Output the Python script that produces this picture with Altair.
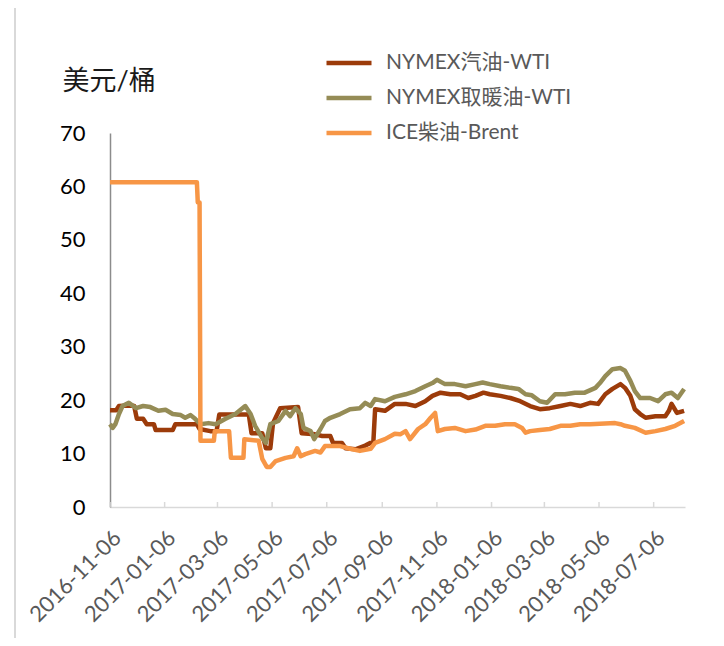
import altair as alt
import pandas as pd

FONT = "Lato, Noto Sans CJK SC, sans-serif"

series_names = ["NYMEX汽油-WTI", "NYMEX取暖油-WTI", "ICE柴油-Brent"]
series_colors = ["#9C3B0A", "#958C56", "#F79646"]

tick_labels = ["2016-11-06", "2017-01-06", "2017-03-06", "2017-05-06", "2017-07-06",
               "2017-09-06", "2017-11-06", "2018-01-06", "2018-03-06", "2018-05-06",
               "2018-07-06"]
x_start = "2016-11-06"
x_end = "2018-08-10"
y_ticks = [0, 10, 20, 30, 40, 50, 60, 70]

gas_dates = ["2016-11-06", "2016-11-13", "2016-11-16", "2016-11-29", "2016-12-03", "2016-12-06",
             "2016-12-13", "2016-12-17", "2016-12-25", "2016-12-27", "2017-01-15", "2017-01-18",
             "2017-02-11", "2017-02-14", "2017-02-26", "2017-03-05", "2017-03-08", "2017-04-10",
             "2017-04-13", "2017-04-25", "2017-04-29", "2017-05-04", "2017-05-07", "2017-05-15",
             "2017-06-04", "2017-06-08", "2017-06-23", "2017-07-01", "2017-07-10", "2017-07-13",
             "2017-07-23", "2017-07-27", "2017-08-07", "2017-08-18", "2017-08-24", "2017-08-27",
             "2017-08-29", "2017-09-09", "2017-09-20", "2017-10-02", "2017-10-13", "2017-10-24",
             "2017-11-01", "2017-11-10", "2017-11-21", "2017-12-02", "2017-12-11", "2017-12-19",
             "2017-12-28", "2018-01-04", "2018-01-16", "2018-01-27", "2018-02-07", "2018-02-18",
             "2018-03-01", "2018-03-12", "2018-03-24", "2018-04-04", "2018-04-15", "2018-04-26",
             "2018-05-05", "2018-05-13", "2018-05-21", "2018-05-30", "2018-06-04", "2018-06-10",
             "2018-06-15", "2018-06-21", "2018-06-27", "2018-07-08", "2018-07-19", "2018-07-23",
             "2018-07-26", "2018-08-01", "2018-08-09"]
gas_vals = [18.1, 18.1, 18.9, 19.0, 18.9, 16.5,
            16.5, 15.5, 15.5, 14.4, 14.4, 15.5,
            15.5, 14.6, 14.2, 14.2, 17.3, 17.3,
            13.8, 13.8, 11.0, 11.0, 15.7, 18.5,
            18.7, 13.8, 13.6, 13.3, 13.3, 12.0,
            12.0, 11.0, 10.8, 11.5, 12.0, 12.0,
            18.3, 18.0, 19.3, 19.3, 18.9, 19.8,
            20.8, 21.4, 21.1, 21.1, 20.4, 20.8,
            21.4, 21.1, 20.8, 20.4, 19.8, 18.9,
            18.3, 18.5, 18.9, 19.3, 18.9, 19.5,
            19.3, 21.1, 22.1, 23.0, 22.3, 20.8,
            18.3, 17.4, 16.7, 17.0, 17.0, 18.0,
            19.3, 17.6, 18.0]

heat_dates = ["2016-11-06", "2016-11-09", "2016-11-12", "2016-11-16", "2016-11-20", "2016-11-27",
              "2016-12-05", "2016-12-13", "2016-12-21", "2016-12-30", "2017-01-07", "2017-01-15",
              "2017-01-24", "2017-01-29", "2017-02-04", "2017-02-09", "2017-02-15", "2017-02-24",
              "2017-03-04", "2017-03-15", "2017-03-26", "2017-04-06", "2017-04-12", "2017-04-17",
              "2017-04-25", "2017-04-29", "2017-05-04", "2017-05-13", "2017-05-21", "2017-05-26",
              "2017-06-01", "2017-06-07", "2017-06-10", "2017-06-18", "2017-06-22", "2017-06-29",
              "2017-07-04", "2017-07-10", "2017-07-21", "2017-08-01", "2017-08-12", "2017-08-18",
              "2017-08-24", "2017-08-29", "2017-09-09", "2017-09-20", "2017-10-02", "2017-10-13",
              "2017-10-24", "2017-11-01", "2017-11-06", "2017-11-15", "2017-11-26", "2017-12-08",
              "2017-12-19", "2017-12-27", "2018-01-04", "2018-01-16", "2018-01-27", "2018-02-05",
              "2018-02-13", "2018-02-20", "2018-03-01", "2018-03-09", "2018-03-18", "2018-03-29",
              "2018-04-09", "2018-04-20", "2018-05-02", "2018-05-07", "2018-05-13", "2018-05-21",
              "2018-05-30", "2018-06-04", "2018-06-10", "2018-06-15", "2018-06-21", "2018-07-02",
              "2018-07-11", "2018-07-19", "2018-07-26", "2018-08-02", "2018-08-09"]
heat_vals = [15.5, 14.8, 15.5, 17.4, 18.9, 19.5,
             18.5, 18.9, 18.7, 18.0, 18.2, 17.4,
             17.2, 16.7, 17.2, 16.5, 15.5, 15.7,
             15.5, 16.5, 17.4, 18.9, 17.4, 15.2,
             12.9, 12.0, 15.5, 16.1, 18.0, 17.0,
             18.5, 17.4, 14.8, 14.2, 12.7, 14.6,
             16.1, 16.7, 17.4, 18.3, 18.5, 19.5,
             18.9, 20.2, 19.8, 20.6, 21.1, 21.7,
             22.6, 23.2, 23.8, 23.0, 23.0, 22.6,
             23.0, 23.3, 23.0, 22.6, 22.3, 22.1,
             21.1, 20.9, 19.8, 19.5, 21.1, 21.1,
             21.4, 21.4, 22.3, 23.2, 24.5, 25.8,
             26.0, 25.5, 23.6, 21.7, 20.4, 20.4,
             19.8, 21.1, 21.4, 20.4, 22.1]

ice_dates = ["2016-11-06", "2017-02-11", "2017-02-12", "2017-02-14", "2017-02-15", "2017-03-02",
             "2017-03-03", "2017-03-19", "2017-03-21", "2017-04-04", "2017-04-05", "2017-04-21",
             "2017-04-25", "2017-04-30", "2017-05-04", "2017-05-10", "2017-05-21", "2017-05-30",
             "2017-06-03", "2017-06-07", "2017-06-12", "2017-06-23", "2017-06-29", "2017-07-04",
             "2017-07-21", "2017-08-01", "2017-08-12", "2017-08-24", "2017-08-29", "2017-09-09",
             "2017-09-20", "2017-09-26", "2017-10-02", "2017-10-07", "2017-10-16", "2017-10-24",
             "2017-10-30", "2017-11-04", "2017-11-07", "2017-11-15", "2017-11-26", "2017-12-08",
             "2017-12-19", "2017-12-30", "2018-01-10", "2018-01-21", "2018-02-01", "2018-02-09",
             "2018-02-13", "2018-02-18", "2018-03-01", "2018-03-12", "2018-03-24", "2018-04-04",
             "2018-04-15", "2018-04-26", "2018-05-07", "2018-05-24", "2018-05-30", "2018-06-04",
             "2018-06-15", "2018-06-27", "2018-07-08", "2018-07-19", "2018-07-30", "2018-08-09"]
ice_vals = [60.8, 60.8, 57.0, 57.0, 12.4, 12.4,
            14.2, 14.2, 9.2, 9.2, 12.7, 12.4,
            9.0, 7.5, 7.5, 8.6, 9.2, 9.5,
            11.0, 9.5, 9.9, 10.5, 10.2, 11.4,
            11.4, 10.9, 10.5, 10.9, 12.0, 12.7,
            13.7, 13.6, 14.2, 12.7, 14.6, 15.5,
            16.7, 17.6, 14.2, 14.6, 14.8, 14.2,
            14.5, 15.2, 15.2, 15.5, 15.5, 14.8,
            13.9, 14.2, 14.4, 14.6, 15.2, 15.2,
            15.5, 15.5, 15.6, 15.7, 15.5, 15.2,
            14.8, 13.9, 14.2, 14.6, 15.2, 16.1]


def ms(s):
    return int(pd.Timestamp(s, tz="UTC").timestamp() * 1000)


rows = []
for k, (name, dates, vals) in enumerate(zip(series_names,
                                             [gas_dates, heat_dates, ice_dates],
                                             [gas_vals, heat_vals, ice_vals])):
    for d, v in zip(dates, vals):
        rows.append({"date": d, "value": v, "series": name, "k": k})
df = pd.DataFrame(rows)

W, H = 575, 374

x_enc = alt.X(
    "date:T",
    scale=alt.Scale(type="utc", domain=[ms(x_start), ms(x_end)]),
    axis=alt.Axis(
        values=[ms(t) for t in tick_labels],
        labelExpr="utcFormat(datum.value, '%Y-%m-%d')",
        labelAngle=-45, labelFontSize=22, labelColor="#595959", labelFont=FONT,
        labelPadding=20, labelOverlap=False, labelFlush=False,
        ticks=False, grid=False, domainColor="#D9D9D9", domainWidth=1.5, title=None,
    ),
)

lines = alt.Chart(df).mark_line(strokeWidth=4.5, strokeJoin="round").encode(
    x=x_enc,
    y=alt.Y(
        "value:Q",
        scale=alt.Scale(domain=[0, 70], nice=False),
        axis=alt.Axis(
            values=y_ticks, grid=False, ticks=False, domainColor="#8C8C8C", domainWidth=1.5,
            labelFontSize=22, labelColor="#000000", labelFont=FONT, labelPadding=25,
            title="美元/桶", titleAngle=0, titleAlign="left", titleBaseline="middle",
            titleX=-48, titleY=-52, titleFontSize=27, titleFontWeight="normal",
            titleColor="#1a1a1a", titleFont=FONT,
        ),
    ),
    color=alt.Color(
        "series:N",
        scale=alt.Scale(domain=series_names, range=series_colors),
        legend=alt.Legend(
            orient="none", legendX=214, legendY=-95, title=None,
            symbolType="stroke", symbolStrokeWidth=4.5, symbolSize=2025,
            labelFontSize=21, labelColor="#595959", labelFont=FONT, labelLimit=0,
            rowPadding=0, labelOffset=12,
        ),
    ),
    order=alt.Order("k:Q"),
)

ticks_df = pd.DataFrame({"date": tick_labels})
tick_marks = alt.Chart(ticks_df).mark_rule(color="#D9D9D9", strokeWidth=1.5).encode(
    x=x_enc, y=alt.value(H - 5), y2=alt.value(H)
)

border = alt.Chart(pd.DataFrame({"a": [0]})).mark_rule(color="#D9D9D9", strokeWidth=2).encode(
    x=alt.value(-95), y=alt.value(-125), y2=alt.value(H + 131)
)

chart = alt.layer(border, tick_marks, lines).properties(
    width=W, height=H,
    autosize=alt.AutoSizeParams(type="none"),
    padding={"left": 102, "top": 125, "right": 31, "bottom": 131},
    background="white",
).configure_view(stroke=None)

chart.save("out.html", embed_options={"renderer": "svg", "actions": False})
